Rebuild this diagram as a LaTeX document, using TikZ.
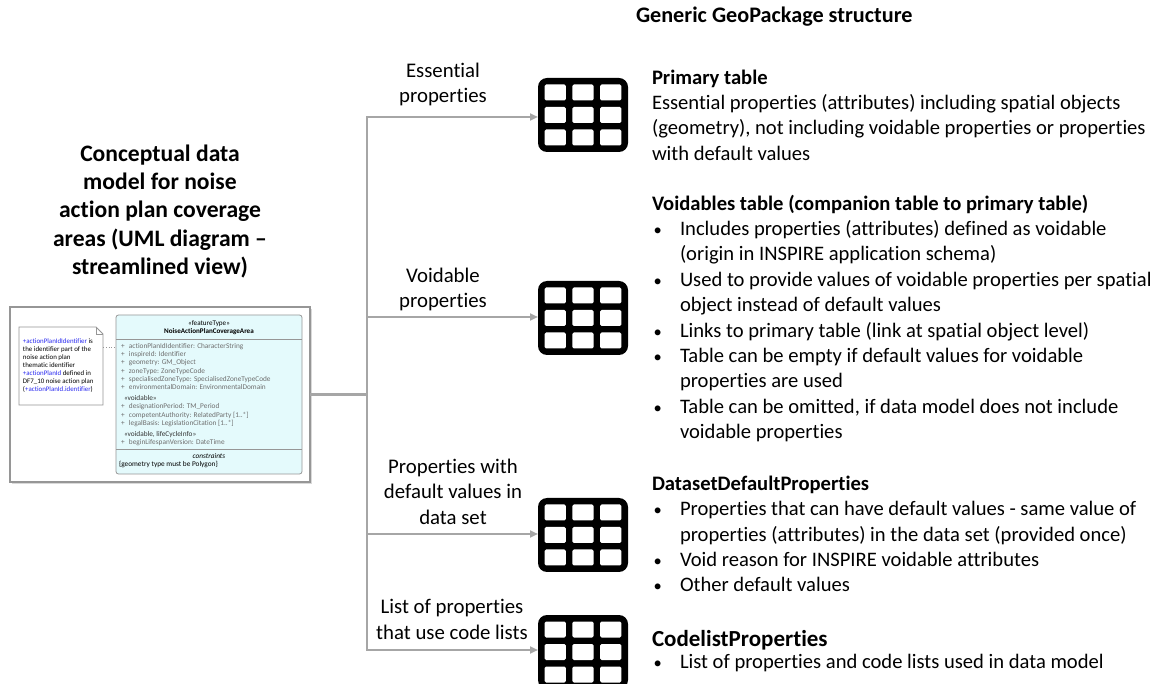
\documentclass[tikz,border=0pt]{standalone}
\usepackage{fontspec}
\setmainfont{Carlito}[Ligatures={NoCommon}]
\usetikzlibrary{arrows.meta,shadows}
\definecolor{linkgray}{RGB}{166,166,166}
\definecolor{umlgray}{RGB}{150,150,150}
\definecolor{umlcyan}{RGB}{228,250,252}
\definecolor{attrgray}{RGB}{110,110,110}
\definecolor{noteblue}{RGB}{40,40,240}
\newcommand\bul{\makebox[28pt][l]{\hspace{1.5pt}{\fontsize{16.5}{16}\selectfont\textbullet}}}
\newcommand\ind{\hspace*{28pt}}
\newcommand\pl{\makebox[8pt][l]{+}}
\begin{document}
\begin{tikzpicture}
[x=1pt,y=-1pt,%
  every node/.style={inner sep=0pt,outer sep=0pt},
  body/.style={font=\fontsize{20.6}{25.4}\selectfont,align=left,anchor=west},
  branch/.style={font=\fontsize{20.8}{25.4}\selectfont,align=center},
  heading/.style={font=\fontsize{23.6}{28.2}\selectfont\bfseries,align=center},
  link/.style={draw=linkgray,line width=2.5pt},
  linkarrow/.style={link,-{Triangle[length=8pt,width=7pt]}},
  tbl/.style={fill=black,rounded corners=9pt,minimum width=90pt,minimum height=74pt},
  umltext/.style={font=\fontsize{7.3}{8.2}\selectfont,align=left,anchor=west},
  umlline/.style={draw=umlgray,line width=0.8pt}]
\useasboundingbox (0,0) rectangle (1171,684);
\clip (0,0) rectangle (1171,684);
\node[heading] (cdm) at (160,211.5) {Conceptual data\\model for noise\\action plan coverage\\areas (UML diagram –\\streamlined view)};
\node[draw=umlgray,fill=white,line width=1.2pt,minimum width=300pt,minimum height=175pt,
  drop shadow={opacity=0.3,shadow xshift=2pt,shadow yshift=-2pt}] (uml) at (160,394.5) {};
\node[draw=umlgray,fill=umlcyan,rounded corners=2.5pt,line width=0.8pt,minimum width=186pt,minimum height=159pt] (cls) at (209,394.5) {};
\draw[umlline] (116,339) -- (302,339);
\draw[umlline] (116,449) -- (302,449);
\node[minimum width=84pt,minimum height=78pt] (note) at (61,366) {};
\draw[umlline,fill=white] (note.north west) -- ([xshift=-7pt]note.north east) -- ([yshift=-7pt]note.north east)
  -- (note.south east) -- (note.south west) -- cycle;
\draw[umlline] ([xshift=-7pt]note.north east) -- ([xshift=-7pt,yshift=-7pt]note.north east) -- ([yshift=-7pt]note.north east);
\draw[umlline,dotted] (note.east |- 0,347) -- (cls.west |- 0,347);
\node[umltext,font=\fontsize{6.9}{8}\selectfont] (notetext) at (23,366) {\textcolor{noteblue}{+actionPlanIdIdentifier} is\\the identifier part of the\\noise action plan\\thematic identifier\\\textcolor{noteblue}{+actionPlanId} defined in\\DF7\_10 noise action plan\\(\textcolor{noteblue}{+actionPlanId.identifier})};
\node[font=\fontsize{7.1}{8}\selectfont,align=center] (clshead) at (209,328) {«featureType»\\\textbf{NoiseActionPlanCoverageArea}};
\node[umltext,text=attrgray] (attrs) at (121,366.5) {\pl actionPlanIdIdentifier: CharacterString\\\pl inspireId: Identifier\\\pl geometry: GM\_Object\\\pl zoneType: ZoneTypeCode\\\pl specialisedZoneType: SpecialisedZoneTypeCode\\\pl environmentalDomain: EnvironmentalDomain};
\node[umltext,text=attrgray] (voidattrs) at (121,411) {\hspace*{3pt}\textcolor{black!80}{«voidable»}\\\pl designationPeriod: TM\_Period\\\pl competentAuthority: RelatedParty [1..*]\\\pl legalBasis: LegislationCitation [1..*]};
\node[umltext,text=attrgray] (lifeattrs) at (121,438.5) {\hspace*{3pt}\textcolor{black!80}{«voidable, lifeCycleInfo»}\\\pl beginLifespanVersion: DateTime};
\node[font=\fontsize{7.3}{8.2}\selectfont\itshape] (cons) at (209,456) {constraints};
\node[umltext] (consval) at (119,464) {\{geometry type must be Polygon\}};
\node[tbl] (t1) at (583,115) {};
\node[tbl] (t2) at (583,318) {};
\node[tbl] (t3) at (583,535) {};
\node[tbl] (t4) at (583,652) {};
\foreach \t in {t1,t2,t3,t4}
  \foreach \i in {0,1,2}
    \foreach \j in {0,1,2}
      \fill[white,rounded corners=1.5pt,shift={(\t.north west)}] (6.5+\i*27.83,6.5+\j*22.5) rectangle +(21.33,16);
\coordinate (j1) at (367,117);
\coordinate (j2) at (367,317);
\coordinate (j3) at (367,534);
\coordinate (j4) at (367,650);
\draw[link] (uml.east) -- (uml.east -| j1);
\draw[link,line cap=rect] (j1) -- (j4);
\draw[linkarrow] (j1) -- (j1 -| t1.west);
\draw[linkarrow] (j2) -- (j2 -| t2.west);
\draw[linkarrow] (j3) -- (j3 -| t3.west);
\draw[linkarrow] (j4) -- (j4 -| t4.west);
\node[branch] (lbl1) at (443,84.5) {Essential\\properties};
\node[branch] (lbl2) at (443,289.5) {Voidable\\properties};
\node[branch] (lbl3) at (453,491.5) {Properties with\\default values in\\data set};
\node[branch] (lbl4) at (452,619.5) {List of properties\\that use code lists};
\node[font=\fontsize{22.2}{24}\selectfont\bfseries,anchor=west] (gpkg) at (636,17) {Generic GeoPackage structure};
\node[body] (primary) at (652,115) {\textbf{Primary table}\\Essential properties (attributes) including spatial objects\\(geometry), not including voidable properties or properties\\with default values};
\node[body] (voidables) at (652,318.5) {\textbf{Voidables table (companion table to primary table)}\\\bul Includes properties (attributes) defined as voidable\\\ind (origin in INSPIRE application schema)\\\bul Used to provide values of voidable properties per spatial\\\ind object instead of default values\\\bul Links to primary table (link at spatial object level)\\\bul Table can be empty if default values for voidable\\\ind properties are used\\\bul Table can be omitted, if data model does not include\\\ind voidable properties};
\node[body] (dataset) at (652,534) {\textbf{DatasetDefaultProperties}\\\bul Properties that can have default values - same value of\\\ind properties (attributes) in the data set (provided once)\\\bul Void reason for INSPIRE voidable attributes\\\bul Other default values};
\node[body,font=\fontsize{23}{25}\selectfont\bfseries] (codelist) at (652,640) {CodelistProperties};
\node[body] (codelistitem) at (652,663) {\bul List of properties and code lists used in data model};
\end{tikzpicture}
\end{document}
